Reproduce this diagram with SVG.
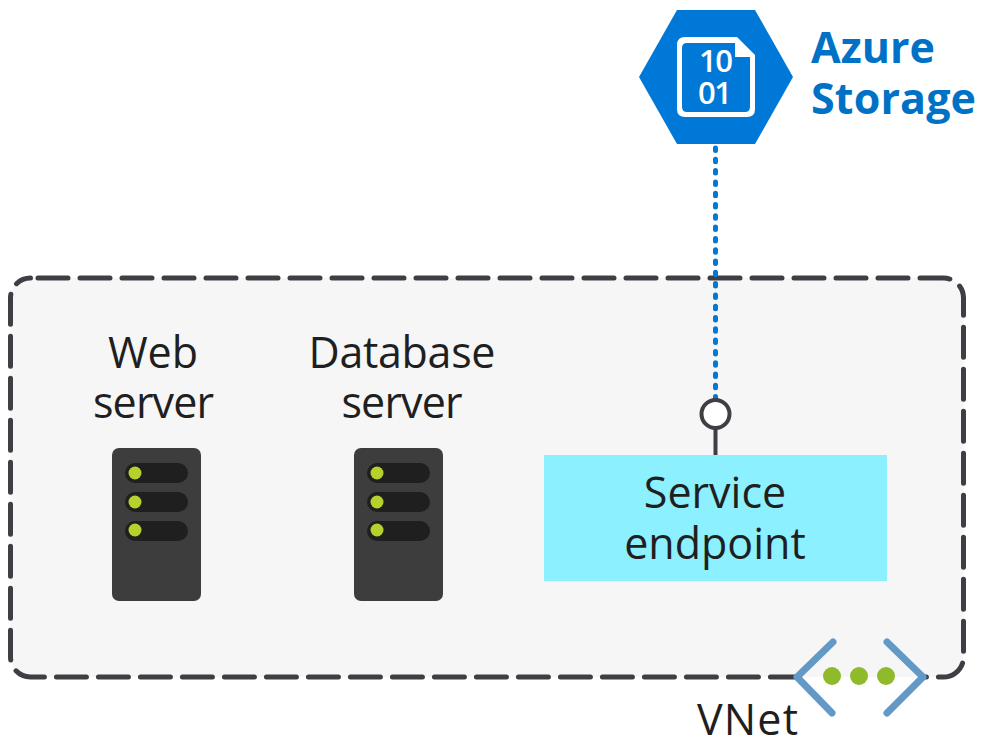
<svg xmlns="http://www.w3.org/2000/svg" width="984" height="754" viewBox="0 0 984 754">
<style>
text{font-family:"Open Sans","Noto Sans","Liberation Sans",sans-serif;font-size:43px;fill:#1f1f1f;text-anchor:middle}
.az{font-weight:700;fill:#0072c6;text-anchor:start}
.num{font-size:31px;font-weight:600;fill:#fff}
.case{fill:#3d3d3d}
.slot{fill:#1f1f1f}
.led{fill:#b5d22c}
.vd{fill:#8fba2b}
.chev{fill:none;stroke:#6399c6;stroke-width:7;stroke-linecap:round;stroke-linejoin:round}
</style>
<rect width="984" height="754" fill="#fff"/>
<g id="vnet-box">
<rect x="10.500" y="278" width="953" height="399" rx="20" fill="#f6f6f6" stroke="#3e3e44" stroke-width="5" stroke-dasharray="30 12" stroke-dashoffset="-7.500" stroke-linecap="round"/>
</g>
<g id="connectors">
<line x1="715.500" y1="148" x2="715.500" y2="398" stroke="#0078d4" stroke-width="5" stroke-dasharray="2.500 8.800" stroke-linecap="round"/>
<line x1="715.500" y1="428" x2="715.500" y2="455" stroke="#3e3e44" stroke-width="4"/>
</g>
<g id="azure-storage">
<polygon points="639,77 677,10 755,10 793,77 755,144 677,144" fill="#0078d7"/>
<path d="M685,37H737L755,55V109Q755,117 747,117H685Q677,117 677,109V45Q677,37 685,37Z" fill="#fff"/>
<path d="M687,43H735V57H750V107Q750,112 745,112H687Q682,112 682,107V48Q682,43 687,43Z" fill="#0078d7"/>
<text class="num" x="716" y="72" textLength="34">10</text>
<text class="num" x="715" y="104" textLength="34">01</text>
<text class="az" x="811" y="63" textLength="124">Azure</text>
<text class="az" x="811" y="114" textLength="165">Storage</text>
</g>
<g id="web-server">
<text x="153" y="368">Web</text>
<text x="153.500" y="418" textLength="121">server</text>
<rect class="case" x="112" y="448" width="89" height="153" rx="7"/>
<rect class="slot" x="125" y="463" width="63" height="20" rx="10"/><circle class="led" cx="135" cy="473" r="6.500"/>
<rect class="slot" x="125" y="492" width="63" height="20" rx="10"/><circle class="led" cx="135" cy="502" r="6.500"/>
<rect class="slot" x="125" y="521" width="63" height="20" rx="10"/><circle class="led" cx="135" cy="530" r="6.500"/>
</g>
<g id="database-server">
<text x="402" y="368" textLength="187">Database</text>
<text x="402" y="418" textLength="121">server</text>
<rect class="case" x="354" y="448" width="89" height="153" rx="7"/>
<rect class="slot" x="367" y="463" width="63" height="20" rx="10"/><circle class="led" cx="377" cy="473" r="6.500"/>
<rect class="slot" x="367" y="492" width="63" height="20" rx="10"/><circle class="led" cx="377" cy="502" r="6.500"/>
<rect class="slot" x="367" y="521" width="63" height="20" rx="10"/><circle class="led" cx="377" cy="530" r="6.500"/>
</g>
<g id="service-endpoint">
<circle cx="715.500" cy="414" r="14" fill="#fff" stroke="#3e3e44" stroke-width="4"/>
<rect x="544" y="455" width="343" height="126" fill="#8cf0ff"/>
<text x="715" y="507.500">Service</text>
<text x="715" y="558.500">endpoint</text>
</g>
<g id="vnet-icon">
<rect x="798" y="671" width="124" height="6.500" fill="#f6f6f6"/>
<rect x="798" y="677" width="124" height="7" fill="#fff"/>
<polyline class="chev" points="833,642 797,677 832,713"/>
<polyline class="chev" points="887,642 923,677 887,713"/>
<circle class="vd" cx="832" cy="676" r="9"/>
<circle class="vd" cx="859" cy="676" r="9"/>
<circle class="vd" cx="886" cy="676" r="9"/>
<text x="747.500" y="735" textLength="101">VNet</text>
</g>
</svg>
